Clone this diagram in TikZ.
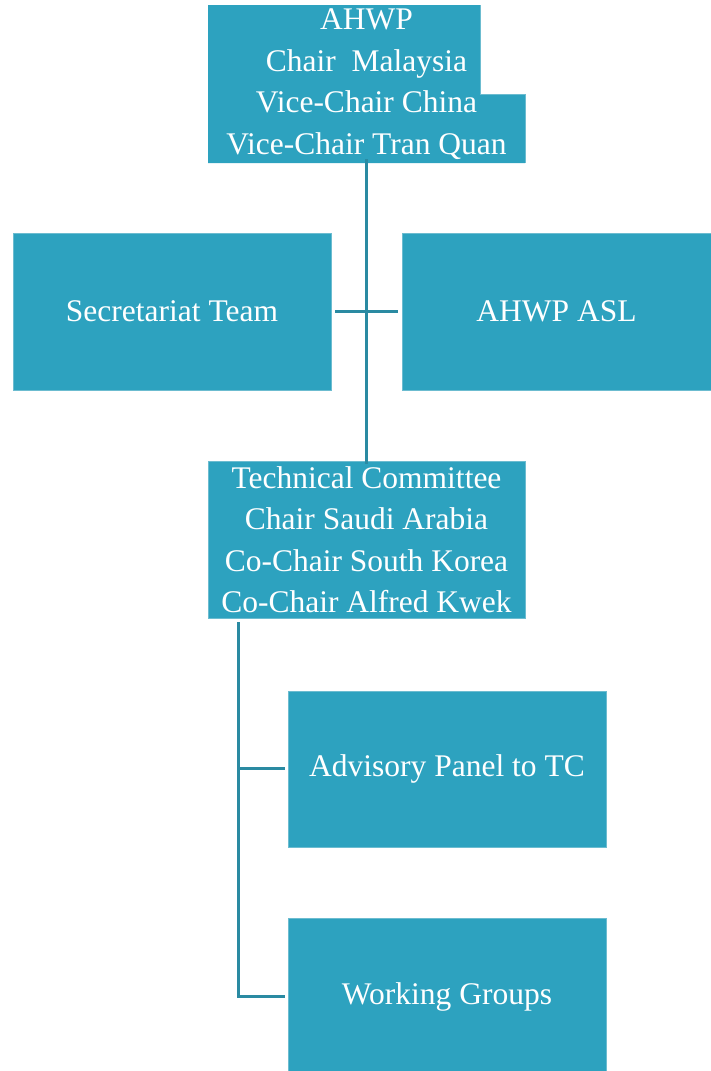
\documentclass[tikz,border=0pt]{standalone}
\usepackage{fontspec}
\setmainfont{Liberation Serif}
\definecolor{boxfill}{HTML}{2DA2BF}
\definecolor{boxedge}{HTML}{6CBCD0}
\definecolor{linecol}{HTML}{2A8AA2}
\begin{document}
\begin{tikzpicture}[x=1pt,y=-1pt,
  box/.style={fill=boxfill,draw=boxedge,line width=0.6pt,inner sep=0pt,text=white,align=center,
    font=\fontsize{31.5}{41.5}\selectfont},
  conn/.style={draw=linecol,line width=3pt}]
\useasboundingbox (0,0) rectangle (711,1071);
% top box (stepped shape)
\fill[boxfill] (208,5) -- (480,5) -- (480,94) -- (525,94) -- (525,163) -- (208,163) -- cycle;
\draw[boxedge,line width=0.6pt] (480,5) -- (480,94) -- (525,94) -- (525,163);
\node[inner sep=0pt,text=white,align=center,font=\fontsize{31.5}{41.5}\selectfont,
  minimum width=317pt,minimum height=158pt] (top) at (366.5,84)
  {AHWP\\Chair\ \ Malaysia\\Vice-Chair China\\Vice-Chair Tran Quan};
\node[box,minimum width=318pt,minimum height=157pt] (sec) at (172,311.5) {Secretariat Team};
\node[box,minimum width=309pt,minimum height=157pt] (asl) at (556.5,311.5) {AHWP ASL};
\node[box,minimum width=317pt,minimum height=157pt] (tc) at (366.5,539.5)
  {Technical Committee\\Chair Saudi Arabia\\Co-Chair South Korea\\Co-Chair Alfred Kwek};
\node[box,minimum width=318pt,minimum height=156pt] (adv) at (447,769) {Advisory Panel to TC};
\node[box,minimum width=318pt,minimum height=158pt] (wg) at (447,997) {Working Groups};
% connectors
\draw[conn] ([yshift=4pt]top.south) -- ([yshift=-3pt]tc.north);
\draw[conn] ([xshift=4pt]sec.east) -- ([xshift=-4pt]asl.west);
\coordinate (tcl) at (238,622);
\draw[conn] (tcl) |- ([xshift=-3pt]wg.west |- 0,996);
\draw[conn] (tcl |- 0,768) -- ([xshift=-3pt]adv.west |- 0,768);
\end{tikzpicture}
\end{document}
